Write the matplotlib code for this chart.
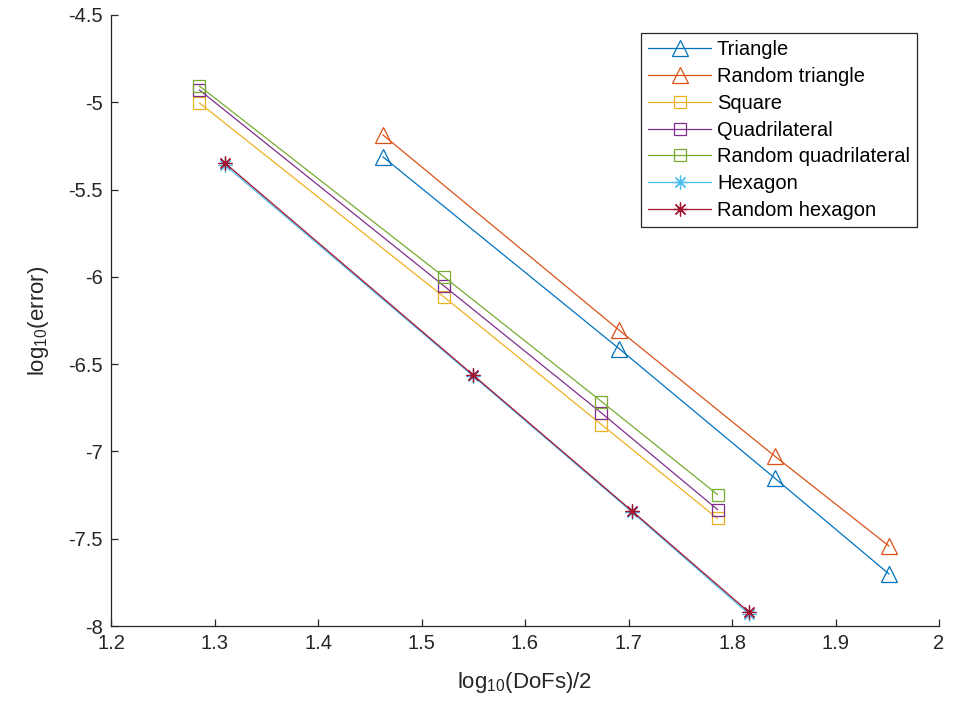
import numpy as np
import matplotlib
matplotlib.use("Agg")
import matplotlib.pyplot as plt

plt.rcParams['font.family'] = ['Liberation Sans', 'DejaVu Sans']
plt.rcParams['mathtext.default'] = 'regular'
plt.rcParams['axes.unicode_minus'] = False

# convergence data: x = log10(DoFs)/2, y = log10(error)
x_tri = [1.4628, 1.6913, 1.8411, 1.9517]
y_tri = [-5.313, -6.413, -7.152, -7.702]
x_rtri = [1.4628, 1.6913, 1.8411, 1.9517]
y_rtri = [-5.187, -6.307, -7.026, -7.542]
x_sq = [1.2855, 1.5213, 1.6739, 1.7860]
y_sq = [-5.004, -6.113, -6.846, -7.384]
x_quad = [1.2855, 1.5213, 1.6739, 1.7860]
y_quad = [-4.930, -6.050, -6.780, -7.333]
x_rquad = [1.2855, 1.5213, 1.6739, 1.7860]
y_rquad = [-4.907, -5.998, -6.714, -7.247]
x_hex = [1.3101, 1.5498, 1.7034, 1.8164]
y_hex = [-5.359, -6.568, -7.347, -7.932]
x_rhex = [1.3101, 1.5498, 1.7034, 1.8164]
y_rhex = [-5.348, -6.562, -7.341, -7.921]

labels = ['Triangle', 'Random triangle', 'Square', 'Quadrilateral',
          'Random quadrilateral', 'Hexagon', 'Random hexagon']
xticks = [1.2, 1.3, 1.4, 1.5, 1.6, 1.7, 1.8, 1.9, 2.0]
xticklabels = ['1.2', '1.3', '1.4', '1.5', '1.6', '1.7', '1.8', '1.9', '2']
yticks = [-8, -7.5, -7, -6.5, -6, -5.5, -5, -4.5]
yticklabels = ['-8', '-7.5', '-7', '-6.5', '-6', '-5.5', '-5', '-4.5']

colors = ['#0072BD', '#D95319', '#EDB120', '#7E2F8E', '#77AC30', '#4DBEEE', '#A2142F']
star = (8, 2, 0)
series = [
    (x_tri, y_tri, '^', 11),
    (x_rtri, y_rtri, '^', 11),
    (x_sq, y_sq, 's', 8.3),
    (x_quad, y_quad, 's', 8.3),
    (x_rquad, y_rquad, 's', 8.3),
    (x_hex, y_hex, star, 10),
    (x_rhex, y_rhex, star, 10),
]

fig = plt.figure(figsize=(9.6, 7.03), dpi=100)
ax = fig.add_axes([111 / 960, 1 - 626 / 703, (939 - 111) / 960, (626 - 15) / 703])

for (xs, ys, mk, ms), c, lab in zip(series, colors, labels):
    ax.plot(xs, ys, color=c, lw=0.9, marker=mk, markersize=ms,
            markerfacecolor='none', markeredgecolor=c, markeredgewidth=0.9,
            label=lab)

ax.set_xlim(1.2, 2.0)
ax.set_ylim(-8, -4.5)
ax.set_xticks(xticks)
ax.set_xticklabels(xticklabels)
ax.set_yticks(yticks)
ax.set_yticklabels(yticklabels)

for s in ['top', 'right']:
    ax.spines[s].set_visible(False)
for s in ['left', 'bottom']:
    ax.spines[s].set_color('#262626')
    ax.spines[s].set_linewidth(0.9)
ax.tick_params(direction='in', length=5, width=0.9, colors='#262626',
               labelsize=14.5, pad=6)

ax.set_xlabel('log$_{10}$(DoFs)/2', fontsize=16, color='#262626', labelpad=12)
ax.set_ylabel('log$_{10}$(error)', fontsize=16, color='#262626', labelpad=12)

leg = ax.legend(loc='upper right', bbox_to_anchor=(917 / 960, 1 - 33 / 703),
                bbox_transform=fig.transFigure, borderaxespad=0,
                fontsize=14.5, handlelength=3.1, labelspacing=0.39,
                handletextpad=0.3, borderpad=0.35, fancybox=False,
                framealpha=1, edgecolor='#262626')
leg.get_frame().set_linewidth(0.9)

fig.savefig('out.png', dpi=100)
